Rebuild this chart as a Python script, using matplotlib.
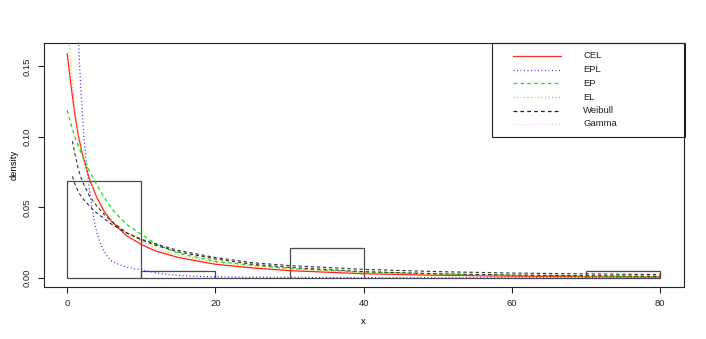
import matplotlib
matplotlib.use("Agg")
import matplotlib.pyplot as plt
from matplotlib.lines import Line2D
from matplotlib.patches import Rectangle
import numpy as np

plt.rcParams['font.family'] = ['Liberation Sans', 'DejaVu Sans']

# ---- data ----
bin_edges = [0, 10, 20, 30, 40, 50, 60, 70, 80]
bin_counts = [13, 1, 0, 4, 0, 0, 0, 1]

cel_x = [0, 0.5, 1, 1.5, 2, 2.5, 3, 4, 5, 6, 8, 10, 12, 15, 20, 25, 30, 40, 50, 60, 70, 80]
cel_y = [0.159, 0.137, 0.117, 0.101, 0.089, 0.079, 0.070, 0.057, 0.047, 0.040, 0.030, 0.0237,
         0.019, 0.0145, 0.0097, 0.0071, 0.0052, 0.0030, 0.0019, 0.0013, 0.0009, 0.0007]

epl_x = [1.4, 1.6, 1.8, 2.0, 2.25, 2.5, 2.75, 3.0, 3.25, 3.5, 3.75, 4.0, 4.5, 5.0, 5.5, 6, 7, 8, 9,
         10, 12, 14, 16, 18, 20, 25, 30, 40, 50, 60, 70, 80]
epl_y = [0.190, 0.158, 0.138, 0.120, 0.1005, 0.086, 0.074, 0.063, 0.053, 0.045, 0.038, 0.032,
         0.024, 0.0185, 0.0148, 0.012, 0.0095, 0.0078, 0.0066, 0.0058, 0.0036, 0.0022, 0.0015,
         0.0011, 0.0008, 0.0005, 0.0004, 0.0002, 0.0001, 0.0001, 0.0001, 0.0001]

ep_x = [0, 0.5, 1, 2, 3, 4, 5, 6, 8, 10, 12, 15, 20, 25, 30, 40, 50, 60, 70, 80]
ep_y = [0.119, 0.109, 0.1005, 0.087, 0.0757, 0.066, 0.057, 0.049, 0.038, 0.031, 0.024, 0.0175,
        0.0118, 0.009, 0.0068, 0.0042, 0.0028, 0.0019, 0.0014, 0.001]

el_x = [0, 0.5, 1, 1.5, 2, 2.5, 3, 4, 5, 6, 8, 10, 12, 15, 20, 25, 30, 40, 50, 60, 70, 80]
el_y = [0.185, 0.150, 0.120, 0.101, 0.088, 0.078, 0.071, 0.058, 0.048, 0.041, 0.032, 0.026,
        0.021, 0.016, 0.011, 0.0083, 0.0063, 0.0038, 0.0025, 0.0017, 0.0012, 0.0009]

weib_x = [0.7, 1, 1.5, 2, 3, 4, 5, 6, 8, 10, 12, 15, 20, 25, 30, 40, 50, 60, 70, 80]
weib_y = [0.097, 0.089, 0.077, 0.069, 0.058, 0.051, 0.045, 0.040, 0.032, 0.027, 0.023, 0.0185,
          0.0135, 0.0097, 0.0075, 0.0045, 0.0030, 0.0021, 0.0016, 0.0012]

gam_x = [0.7, 1, 1.5, 2, 3, 4, 5, 6, 8, 10, 12, 15, 20, 25, 30, 40, 50, 60, 70, 80]
gam_y = [0.072, 0.067, 0.061, 0.057, 0.051, 0.046, 0.042, 0.038, 0.032, 0.0275, 0.024, 0.0195,
         0.0145, 0.0108, 0.0088, 0.0061, 0.0045, 0.0035, 0.0029, 0.0024]

legend_labels = ["CEL", "EPL", "EP", "EL", "Weibull", "Gamma"]
legend_colors = ["#ff3030", "#3030ff", "#20e020", "#ffa500", "#222222", "#ffc0cb"]

x_ticks = [0, 20, 40, 60, 80]
y_ticks = [0.00, 0.05, 0.10, 0.15]

# ---- figure ----
W, H = 706, 339
fig = plt.figure(figsize=(W / 100, H / 100), dpi=100)
axl, axr, axt, axb = 43.5, 684, 43.3, 287
ax = fig.add_axes([axl / W, 1 - axb / H, (axr - axl) / W, (axb - axt) / H])

# histogram (density)
n_total = sum(bin_counts)
widths = np.diff(bin_edges)
dens = np.array(bin_counts) / (n_total * widths)
ax.bar(bin_edges[:-1], dens, width=widths, align='edge', fill=False,
       edgecolor='#4a4a4a', linewidth=0.9)

dash = (3, 2.5)
dot = (0.8, 2.0)
ax.plot(cel_x, cel_y, color='#ff2020', lw=0.9)
ax.plot(epl_x, epl_y, color='#2525ff', lw=0.9, dashes=dot)
ax.plot(ep_x, ep_y, color='#10e010', lw=0.9, dashes=dash)
ax.plot(el_x, el_y, color='#ffa500', lw=0.9, dashes=dot)
ax.plot(weib_x, weib_y, color='#333333', lw=0.8, dashes=dash)
ax.plot(gam_x, gam_y, color='#333333', lw=0.8, dashes=dash)

ax.set_xlim(-3.2, 83.2)
ax.set_ylim(-0.0064, 0.1664)
ax.set_xticks(x_ticks)
ax.set_xticklabels([str(t) for t in x_ticks])
ax.set_yticks(y_ticks)
ax.set_yticklabels(["%.2f" % t for t in y_ticks], rotation=90, va='center')
ax.tick_params(direction='out', length=4, width=0.8, labelsize=6.8, pad=4.5,
               colors='#222222')
for s in ax.spines.values():
    s.set_linewidth(0.8)
    s.set_color('#222222')

ax.set_xlabel('x', fontsize=6.8)
ax.xaxis.set_label_coords(0.5, -(322 - axb) / (axb - axt))
ax.xaxis.label.set_va('center')
ax.set_ylabel('density', fontsize=6.8)
ax.yaxis.set_label_coords(-(axl - 14) / (axr - axl), 0.5)
ax.yaxis.label.set_va('center')

# ---- legend (R-style box at top right) ----
def fx(px):
    return (px - axl) / (axr - axl)

def fy(py):
    return (axb - py) / (axb - axt)

ax.add_patch(Rectangle((fx(492), fy(136.7)), fx(685) - fx(492), fy(43.3) - fy(136.7),
                       transform=ax.transAxes, fill=False, edgecolor='#222222',
                       linewidth=0.8, clip_on=False, zorder=5))
row_y = [55.7, 69.7, 83.3, 97, 110.5, 124]
styles = [None, dot, dash, dot, dash, dot]
for lab, col, st, ry in zip(legend_labels, legend_colors, styles, row_y):
    kw = dict(color=col, lw=0.9, transform=ax.transAxes, clip_on=False, zorder=6)
    ln = Line2D([fx(513), fx(561)], [fy(ry), fy(ry)], **kw)
    if st is not None:
        ln.set_dashes(st)
    ax.add_line(ln)
    ax.text(fx(583), fy(ry), lab, transform=ax.transAxes, fontsize=6.8,
            va='center', ha='left', color='#222222')

fig.savefig('out.png', dpi=100)
